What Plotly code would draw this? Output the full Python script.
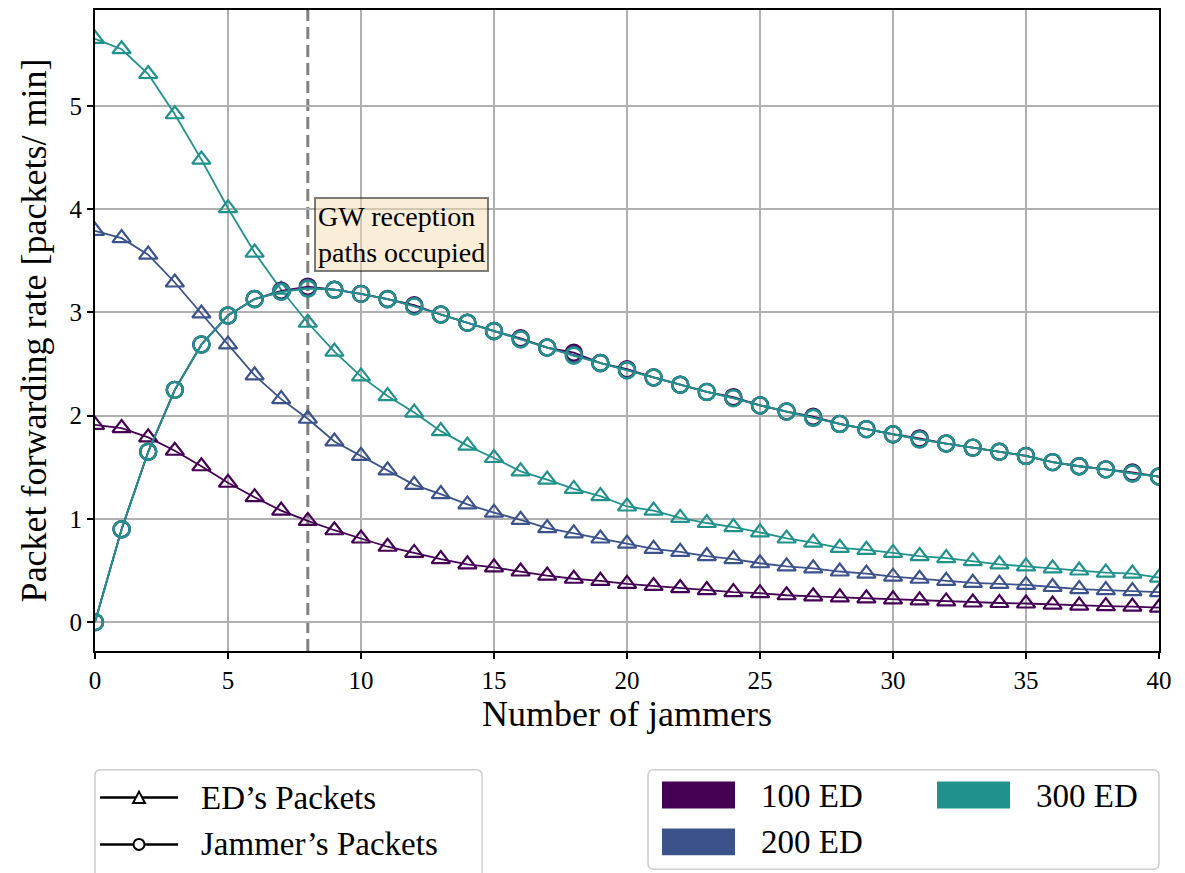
import plotly.graph_objects as go

# ---------------- data ----------------
jammers = list(range(41))

ed_100 = [1.91, 1.88, 1.79, 1.66, 1.51, 1.35, 1.21, 1.08, 0.98, 0.89,
          0.81, 0.73, 0.67, 0.61, 0.56, 0.53, 0.49, 0.45, 0.42, 0.40,
          0.37, 0.35, 0.33, 0.31, 0.29, 0.28, 0.26, 0.25, 0.24, 0.23,
          0.22, 0.21, 0.20, 0.19, 0.185, 0.18, 0.17, 0.16, 0.155, 0.15,
          0.14]
ed_200 = [3.79, 3.72, 3.56, 3.29, 2.99, 2.69, 2.39, 2.16, 1.97, 1.75,
          1.61, 1.47, 1.33, 1.24, 1.14, 1.06, 0.99, 0.91, 0.86, 0.81,
          0.76, 0.71, 0.68, 0.64, 0.61, 0.57, 0.54, 0.52, 0.49, 0.47,
          0.44, 0.42, 0.40, 0.38, 0.37, 0.36, 0.34, 0.32, 0.31, 0.30,
          0.29]
ed_300 = [5.65, 5.55, 5.31, 4.92, 4.48, 4.01, 3.58, 3.22, 2.90, 2.62,
          2.38, 2.19, 2.03, 1.85, 1.71, 1.59, 1.46, 1.38, 1.29, 1.22,
          1.12, 1.08, 1.01, 0.96, 0.92, 0.87, 0.81, 0.77, 0.72, 0.70,
          0.67, 0.64, 0.62, 0.59, 0.56, 0.54, 0.52, 0.50, 0.48, 0.47,
          0.43]
jam_100 = [0.00, 0.90, 1.65, 2.25, 2.69, 2.97, 3.13, 3.21, 3.25, 3.22,
           3.18, 3.13, 3.07, 2.98, 2.90, 2.82, 2.75, 2.66, 2.61, 2.51,
           2.45, 2.37, 2.30, 2.23, 2.18, 2.10, 2.04, 1.99, 1.92, 1.87,
           1.82, 1.78, 1.73, 1.69, 1.65, 1.61, 1.55, 1.51, 1.48, 1.45,
           1.41]
jam_200 = [0.00, 0.90, 1.65, 2.25, 2.69, 2.97, 3.13, 3.20, 3.24, 3.22,
           3.18, 3.13, 3.06, 2.98, 2.90, 2.82, 2.74, 2.66, 2.59, 2.51,
           2.44, 2.37, 2.30, 2.23, 2.17, 2.10, 2.04, 1.98, 1.92, 1.87,
           1.82, 1.77, 1.73, 1.69, 1.65, 1.61, 1.55, 1.51, 1.48, 1.44,
           1.41]
jam_300 = [0.00, 0.90, 1.65, 2.25, 2.69, 2.97, 3.13, 3.20, 3.23, 3.22,
           3.18, 3.13, 3.06, 2.98, 2.90, 2.82, 2.74, 2.66, 2.58, 2.51,
           2.44, 2.37, 2.30, 2.23, 2.17, 2.10, 2.04, 1.98, 1.92, 1.87,
           1.82, 1.77, 1.73, 1.69, 1.65, 1.61, 1.55, 1.51, 1.48, 1.44,
           1.41]

series_labels = ["100 ED", "200 ED", "300 ED"]
colors = ["#440154", "#3b528b", "#21918c"]
x_ticks = [0, 5, 10, 15, 20, 25, 30, 35, 40]
y_ticks = [0, 1, 2, 3, 4, 5]
threshold_x = 8

FONT = "Liberation Serif, Times New Roman, serif"

fig = go.Figure()

ed_all = [ed_100, ed_200, ed_300]
jam_all = [jam_100, jam_200, jam_300]

for lab, col, ys in zip(series_labels, colors, ed_all):
    fig.add_trace(go.Scatter(
        x=jammers, y=ys, mode="lines+markers", name=lab + " ED's Packets",
        line=dict(color=col, width=1.8),
        marker=dict(symbol="triangle-up-open", size=16, color=col,
                    line=dict(width=2.2, color=col)),
        showlegend=False))

for lab, col, ys in zip(series_labels, colors, jam_all):
    fig.add_trace(go.Scatter(
        x=jammers, y=ys, mode="lines+markers", name=lab + " Jammer's Packets",
        line=dict(color=col, width=1.8),
        marker=dict(symbol="circle-open", size=16, color=col,
                    line=dict(width=2.4, color=col)),
        showlegend=False))

# vertical dashed line
fig.add_shape(type="line", x0=threshold_x, x1=threshold_x, y0=0, y1=1,
              xref="x", yref="paper", layer="between",
              line=dict(color="#808080", width=3, dash="12px,6px"))

fig.add_annotation(
    x=8.25, y=4.12, xref="x", yref="y", xanchor="left", yanchor="top",
    text="GW reception<br>paths occupied", showarrow=False, align="left",
    font=dict(family=FONT, size=28, color="black"),
    bgcolor="rgba(245,222,179,0.5)", bordercolor="rgba(0,0,0,0.5)",
    borderwidth=2, borderpad=2)

# ---------------- manual legends (paper coords) ----------------
# screen position of plot area (page has an 8px body margin)
L, R, T, B = 95, 1159, 8, 651
W, H = R - L, B - T


def px(v):
    return (v - L) / W


def py(v):
    return (B - v) / H


def rounded_rect(x0, y0, x1, y1, r=6):
    rx, ry = r / W, r / H
    X0, X1 = px(x0), px(x1)
    Y0, Y1 = py(y0), py(y1)
    return (f"M {X0+rx},{Y0} L {X1-rx},{Y0} Q {X1},{Y0} {X1},{Y0-ry} "
            f"L {X1},{Y1+ry} Q {X1},{Y1} {X1-rx},{Y1} L {X0+rx},{Y1} "
            f"Q {X0},{Y1} {X0},{Y1+ry} L {X0},{Y0-ry} Q {X0},{Y0} {X0+rx},{Y0} Z")


shapes = []
shapes.append(dict(type="path", path=rounded_rect(95, 770, 482, 885),
                   xref="paper", yref="paper",
                   line=dict(color="#cccccc", width=1.5), fillcolor="white"))
shapes.append(dict(type="path", path=rounded_rect(648, 770, 1159, 870),
                   xref="paper", yref="paper",
                   line=dict(color="#cccccc", width=1.5), fillcolor="white"))

for yy in (798, 845):
    shapes.append(dict(type="line", x0=px(100), x1=px(178), y0=py(yy), y1=py(yy),
                       xref="paper", yref="paper",
                       line=dict(color="black", width=2.5)))
tri = (f"M {px(133)},{py(803.5)} L {px(145)},{py(803.5)} L {px(139)},{py(792)} Z")
shapes.append(dict(type="path", path=tri, xref="paper", yref="paper",
                   line=dict(color="black", width=2), fillcolor="white"))
shapes.append(dict(type="circle", x0=px(133.5), x1=px(144.5), y0=py(839.5), y1=py(850.5),
                   xref="paper", yref="paper",
                   line=dict(color="black", width=2), fillcolor="white"))

legend_text = [("ED\u2019s Packets", 199, 798), ("Jammer\u2019s Packets", 199, 845)]

patch_pos = [(662, 782), (662, 829), (937, 782)]
for (x0, y0), col, lab in zip(patch_pos, colors, series_labels):
    shapes.append(dict(type="rect", x0=px(x0), x1=px(x0 + 73), y0=py(y0), y1=py(y0 + 27),
                       xref="paper", yref="paper", line=dict(width=0), fillcolor=col))
    legend_text.append((lab, x0 + 97, y0 + 14))

for s in shapes:
    fig.add_shape(**s)

for txt, x0, y0 in legend_text:
    fig.add_annotation(x=px(x0), y=py(y0), xref="paper", yref="paper",
                       xanchor="left", yanchor="middle", text=txt, showarrow=False,
                       font=dict(family=FONT, size=33, color="black"))

fig.update_layout(
    width=1177, height=865,
    margin=dict(l=L - 8, r=1185 - R, t=T - 8, b=873 - B),
    paper_bgcolor="white", plot_bgcolor="white",
    font=dict(family=FONT, size=25, color="black"),
    showlegend=False,
)
fig.update_xaxes(
    range=[0, 40], tickvals=x_ticks, ticktext=[str(t) for t in x_ticks],
    showgrid=True, gridcolor="#b0b0b0", gridwidth=1.5,
    showline=True, linecolor="black", linewidth=2, mirror=True,
    ticks="outside", ticklen=6, tickwidth=1.5, tickcolor="black",
    tickfont=dict(family=FONT, size=25),
    zeroline=False,
    title=dict(text="Number of jammers", font=dict(family=FONT, size=36), standoff=2))
fig.update_yaxes(
    range=[-0.28, 5.93], tickvals=y_ticks, ticktext=[str(t) for t in y_ticks],
    showgrid=True, gridcolor="#b0b0b0", gridwidth=1.5,
    showline=True, linecolor="black", linewidth=2, mirror=True,
    ticks="outside", ticklen=6, tickwidth=1.5, tickcolor="black",
    tickfont=dict(family=FONT, size=25),
    zeroline=False,
    title=dict(text="Packet forwarding rate [packets/ min]", font=dict(family=FONT, size=36), standoff=12))

fig.write_html("out.html")
